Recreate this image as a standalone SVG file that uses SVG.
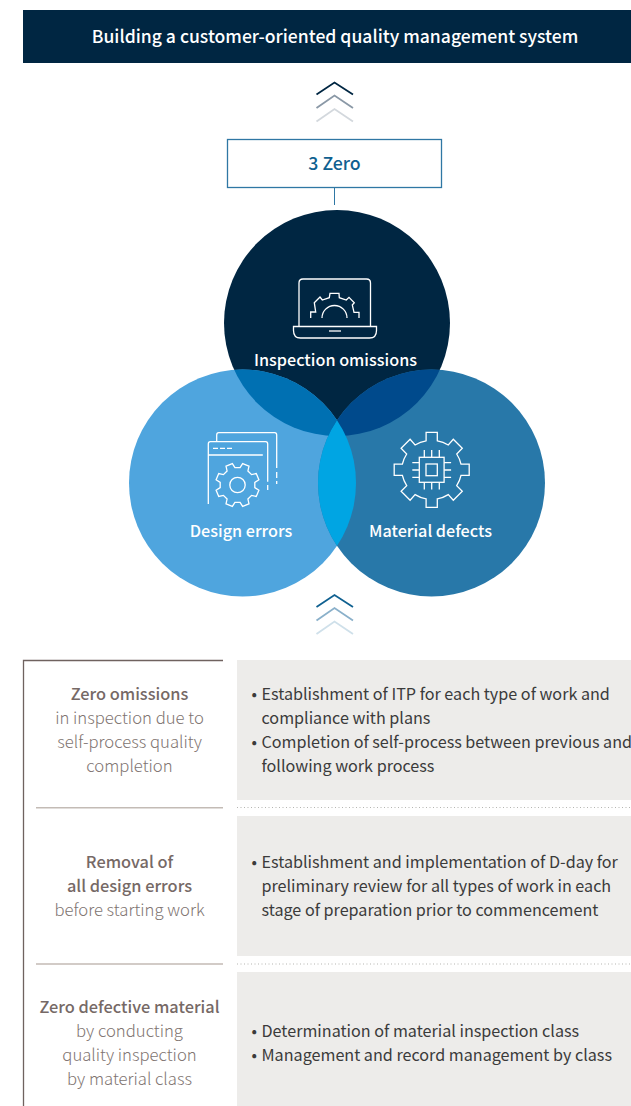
<svg xmlns="http://www.w3.org/2000/svg" width="631" height="1106" viewBox="0 0 631 1106">
<style>
text{font-family:"Noto Sans CJK KR","Noto Sans",sans-serif}
.i{fill:none;stroke:#fff;stroke-width:1.300}
.w{fill:#fff;font-size:16.200px;font-weight:500;text-anchor:middle}
.l{fill:#807471;font-size:16.700px;text-anchor:middle;font-weight:300}
.b{font-weight:500;fill:#766966;font-size:16.350px}
.r{fill:#3b3b3b;font-size:16.150px}
.bg{fill:#edecea}
.ch{fill:none;stroke-width:1.800}
.div{stroke:#c3bbb5;stroke-width:1.500}
.dot{stroke:#b5b5b1;stroke-width:1;stroke-dasharray:1 2.500}
</style>
<defs>
<clipPath id="ct"><circle cx="337" cy="323" r="113"/></clipPath>
<clipPath id="cl"><circle cx="242.500" cy="483" r="113.500"/></clipPath>
<path id="gear8" d="M17.310 2.590 21.390 5.140 18.760 11.490 14.070 10.410 10.410 14.070 11.490 18.760 5.140 21.390 2.590 17.310-2.590 17.310-5.140 21.390-11.490 18.760-10.410 14.070-14.070 10.410-18.760 11.490-21.390 5.140-17.310 2.590-17.310-2.590-21.390-5.140-18.760-11.490-14.070-10.410-10.410-14.070-11.490-18.760-5.140-21.390-2.590-17.310 2.590-17.310 5.140-21.390 11.490-18.760 10.410-14.070 14.070-10.410 18.760-11.490 21.390-5.140 17.310-2.590Z"/>
</defs>
<g id="title"><rect x="23" y="10" width="608" height="53" fill="#002642"/><text x="335" y="43" class="w" style="font-size:17.570px">Building a customer-oriented quality management system</text></g>
<g id="chev-top">
<path class="ch" d="M316.500 94.500 334.500 82.500 353 94.500" stroke="#002642"/>
<path class="ch" d="M316.500 108 334.500 95.500 353 108" stroke="#8a98a6"/>
<path class="ch" d="M316.500 121.500 334.500 109 353 121.500" stroke="#d3d8dd"/>
</g>
<g id="zero"><rect x="227.500" y="139.500" width="214" height="48" fill="#fff" stroke="#2f77a4" stroke-width="1.300"/><text x="334.500" y="170" text-anchor="middle" font-size="17.700" font-weight="500" fill="#0f6090">3 Zero</text></g>
<g id="connectors"><path d="M334.500 188V205" stroke="#2f77a4" stroke-width="1"/></g>
<g id="circles">
<circle cx="337" cy="323" r="113" fill="#002642"/>
<circle cx="242.500" cy="483" r="113.500" fill="#4fa5de"/>
<circle cx="431.500" cy="483" r="113.500" fill="#2878a9"/>
<circle cx="242.500" cy="483" r="113.500" fill="#0070b2" clip-path="url(#ct)"/>
<circle cx="431.500" cy="483" r="113.500" fill="#004a8c" clip-path="url(#ct)"/>
<circle cx="431.500" cy="483" r="113.500" fill="#00a5e3" clip-path="url(#cl)"/>
</g>
<g id="node-inspection">
<path class="i" d="M299 326V283q0-4 4-4h63.500q4 0 4 4v43"/>
<path class="i" stroke-width="1.800" d="M293.500 326.500h83v4q0 7.500-7 7.500H300.500q-7 0-7-7.500z"/>
<path class="i" d="M329 331h12"/>
<path class="i" d="M310.700 318V312H315.700L314.300 302.700 320 297 322.300 300 329.300 297.700 330 293.300H339L339.300 297.700 346.300 300 349 297.300 354.300 302.700 352.300 305 354 312.300H359V318M322 318a12.500 12.500 0 0 1 25 0"/>
<text x="335.500" y="366" class="w">Inspection omissions</text>
</g>
<g id="node-design">
<path class="i" d="M216.700 441V435q0-2.300 2-2.300h56q2 0 2 2.300v33M276.700 472v6M276.700 481v3"/>
<path class="i" d="M208.300 504V444q0-2.300 2-2.300h55.400q2 0 2 2.300v37.700M267.700 485v5M208.300 455h54.500"/>
<path class="i" d="M213 448.300h5M220 448.300h5M227 448.300h5"/>
<circle class="i" cx="237.500" cy="485" r="7.700"/>
<use href="#gear8" class="i" x="237.500" y="485"/>
<text x="241" y="537" class="w">Design errors</text>
</g>
<g id="node-material">
<path class="i" transform="translate(431.700 469.800)" d="M-5.600-37.500H5.600V-29A29.500 29.500 0 0 1 16.600-24.800L21.600-30.500 30.600-21.500 25-15.800A29.500 29.500 0 0 1 29.300-5.600H37.500V5.600H29.300A29.500 29.500 0 0 1 25 15.800L30.600 21.500 21.600 30.500 16.600 24.800A29.500 29.500 0 0 1 5.600 29V37.500H-5.600V29A29.500 29.500 0 0 1-16.600 24.800L-21.600 30.500-30.600 21.500-25 15.800A29.500 29.500 0 0 1-29.300 5.600H-37.500V-5.600H-29.300A29.500 29.500 0 0 1-25-15.800L-30.600-21.500-21.600-30.500-16.600-24.800A29.500 29.500 0 0 1-5.600-29Z"/>
<rect class="i" x="419.300" y="457.300" width="24.800" height="25"/>
<rect class="i" x="426" y="464" width="11.300" height="11.700"/>
<path class="i" d="M424.300 450v7.300M431.700 450v7.300M439.300 450v7.300M424.300 482.300v7.300M431.700 482.300v7.300M439.300 482.300v7.300M412.300 462.700h7M412.300 470h7M412.300 477.300h7M444.100 462.700h7M444.100 470h7M444.100 477.300h7"/>
<text x="430.500" y="537" class="w">Material defects</text>
</g>
<g id="chev-bottom">
<path class="ch" d="M316.500 607 334.500 595 353 607" stroke="#0f6090"/>
<path class="ch" d="M316.500 620.500 334.500 608 353 620.500" stroke="#8ab0ca"/>
<path class="ch" d="M316.500 634 334.500 621.500 353 634" stroke="#cfe0ea"/>
</g>
<g id="table-frame"><path d="M223 660.500H23.500V1106" fill="none" stroke="#6f625f" stroke-width="1.300"/>
<path class="div" d="M36 807.700H223M36 964H223"/>
<path class="dot" d="M237 807.500H631M237 964H631"/>
</g>
<g id="row1">
<rect class="bg" x="237" y="660" width="394" height="140"/>
<text x="129.500" y="700" class="l"><tspan class="b">Zero omissions</tspan></text>
<text x="129.500" y="724" class="l">in inspection due to</text>
<text x="129.500" y="748" class="l">self-process quality</text>
<text x="129.500" y="772" class="l">completion</text>
<text y="700" class="r"><tspan x="251.500">•</tspan><tspan x="261.500">Establishment of ITP for each type of work and</tspan></text>
<text x="261.500" y="724" class="r">compliance with plans</text>
<text y="748" class="r"><tspan x="251.500">•</tspan><tspan x="261.500">Completion of self-process between previous and</tspan></text>
<text x="261.500" y="772" class="r">following work process</text>
</g>
<g id="row2">
<rect class="bg" x="237" y="816" width="394" height="140"/>
<text x="129.500" y="868" class="l"><tspan class="b">Removal of</tspan></text>
<text x="129.500" y="892" class="l"><tspan class="b">all design errors</tspan></text>
<text x="129.500" y="916" class="l">before starting work</text>
<text y="868" class="r"><tspan x="251.500">•</tspan><tspan x="261.500">Establishment and implementation of D-day for</tspan></text>
<text x="261.500" y="892" class="r">preliminary review for all types of work in each</text>
<text x="261.500" y="916" class="r">stage of preparation prior to commencement</text>
</g>
<g id="row3">
<rect class="bg" x="237" y="972" width="394" height="134"/>
<text x="129.500" y="1013" class="l"><tspan class="b">Zero defective material</tspan></text>
<text x="129.500" y="1037" class="l">by conducting</text>
<text x="129.500" y="1061" class="l">quality inspection</text>
<text x="129.500" y="1085" class="l">by material class</text>
<text y="1037" class="r"><tspan x="251.500">•</tspan><tspan x="261.500">Determination of material inspection class</tspan></text>
<text y="1061" class="r"><tspan x="251.500">•</tspan><tspan x="261.500">Management and record management by class</tspan></text>
</g>
</svg>
